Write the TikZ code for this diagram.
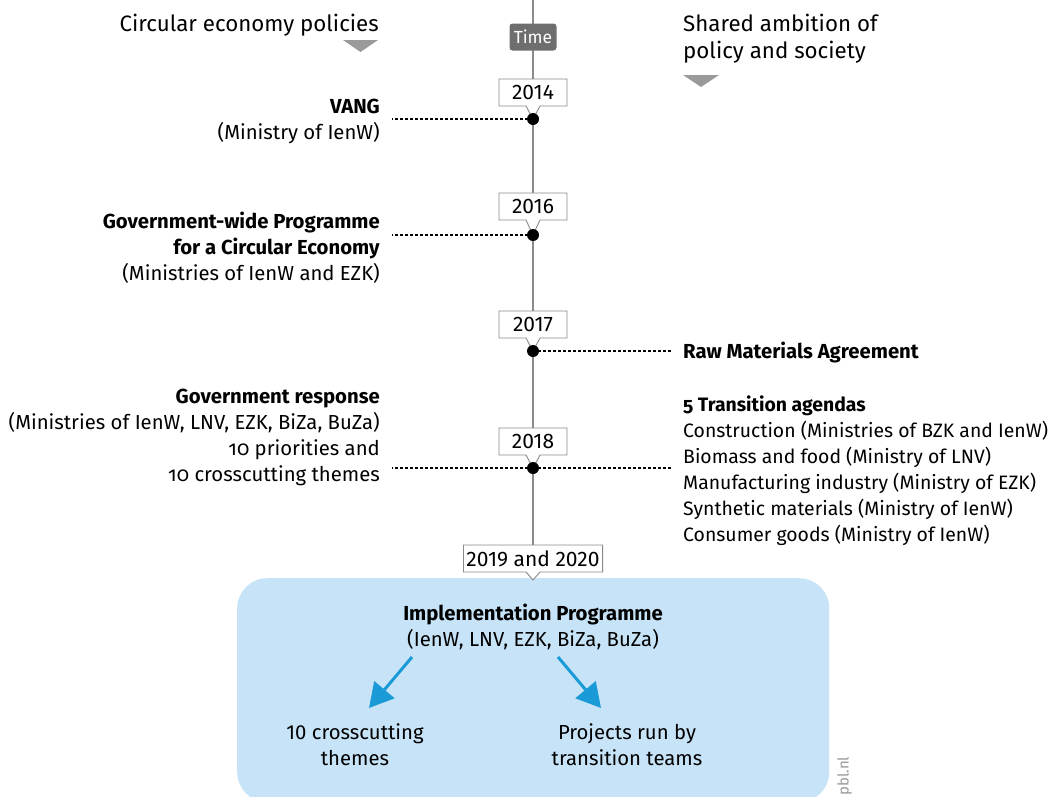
\documentclass[tikz,border=0pt]{standalone}
\usepackage{fontspec}
\setmainfont{Fira Sans}
\newfontfamily\osf{Fira Sans}[Numbers=OldStyle]
\usetikzlibrary{shapes.callouts,arrows.meta,calc}
\definecolor{tlgray}{HTML}{8A8A8A}
\definecolor{timegray}{HTML}{6E6E6E}
\definecolor{trigray}{HTML}{9A9A9A}
\definecolor{boxblue}{HTML}{C7E3F7}
\definecolor{arrblue}{HTML}{1A9BD7}
\tikzset{
  txt/.style={font=\fontsize{20.3}{26}\selectfont, inner sep=0pt},
  rtxt/.style={txt, align=right, anchor=base east},
  ltxt/.style={txt, align=left, anchor=base west},
  ctxt/.style={txt, align=center, anchor=base},
  yearbox/.style={rectangle callout, draw=tlgray, fill=white, line width=0.9pt,
    font=\fontsize{21}{24}\selectfont, minimum height=27pt, inner xsep=3pt, inner ysep=0pt,
    callout pointer width=14pt},
  tdot/.style={circle, fill=black, minimum size=12pt, inner sep=0pt},
  link/.style={dash pattern=on 3pt off 2pt, line width=1.2pt, shorten >=12pt},
  bluearrow/.style={draw=arrblue, line width=3pt, -{Triangle[length=24pt,width=26pt]}},
}
\begin{document}
\begin{tikzpicture}[x=1pt,y=-1pt]
\useasboundingbox (0,0) rectangle (1059,796);
% blue box
\node[draw=none, fill=boxblue, rounded corners=30pt, minimum width=592pt, minimum height=224pt, anchor=north west] (impl) at (237,578) {};
% timeline
\coordinate (top) at (533,0);
\coordinate (d14) at (533,119);
\coordinate (d16) at (533,235);
\coordinate (d17) at (533,351);
\coordinate (d18) at (533,468);
\coordinate (p19) at (533,580);
\node[yearbox, minimum width=138pt, callout absolute pointer={(p19)}] (y19) at (533,558.5) {2019 and 2020};
\draw[tlgray, line width=1.3pt] (top) -- (y19.north);
\node[fill=timegray, rounded corners=3pt, text=white, font=\fontsize{17.5}{20}\selectfont, minimum width=47pt, minimum height=27pt, inner sep=0pt] (time) at (533,37) {Time};
\node[yearbox, minimum width=68pt, callout absolute pointer={(d14)}] (y14) at (533,92.5) {2014};
\node[yearbox, minimum width=68pt, callout absolute pointer={(d16)}] (y16) at (533,206.5) {2016};
\node[yearbox, minimum width=68pt, callout absolute pointer={(d17)}] (y17) at (533,324.5) {2017};
\node[yearbox, minimum width=68pt, callout absolute pointer={(d18)}] (y18) at (533,441.5) {2018};
% headers
\node[rtxt, font=\fontsize{22.3}{27}\selectfont] (hl) at (379,31) {Circular economy policies};
\node[ltxt, font=\fontsize{22.3}{27}\selectfont] (hr) at (683,58) {Shared ambition of\\policy and society};
\fill[trigray] (343,40) -- (378,40) -- (360.5,52) -- cycle;
\fill[trigray] (683,75) -- (719,75) -- (701,87) -- cycle;
% left texts
\node[rtxt] (vang) at (380,139) {\textbf{VANG}\\(Ministry of IenW)};
\node[rtxt] (gwp) at (380,280) {\textbf{Government-wide Programme}\\\textbf{for a Circular Economy}\\(Ministries of IenW and EZK)};
\node[rtxt] (gr) at (380,481) {\textbf{Government response}\\(Ministries of IenW, LNV, EZK, BiZa, BuZa)\\{\osf 10 priorities and}\\{\osf 10 crosscutting themes}};
% right texts
\node[ltxt] (rma) at (683,358) {\textbf{Raw Materials Agreement}};
\node[ltxt, font=\fontsize{19.4}{26}\selectfont] (ta) at (683,541) {\textbf{\osf 5 Transition agendas}\\Construction (Ministries of BZK and IenW)\\Biomass and food (Ministry of LNV)\\Manufacturing industry (Ministry of EZK)\\Synthetic materials (Ministry of IenW)\\Consumer goods (Ministry of IenW)};
% dashed links
\draw[link] (d14) -- (vang.east |- d14);
\draw[link] (d16) -- (gwp.east |- d16);
\draw[link] (d17) -- (rma.west |- d17);
\draw[link] (d18) -- (gr.east |- d18);
\draw[link] (d18) -- (ta.west |- d18);
% dots
\foreach \d in {d14,d16,d17,d18} \node[tdot] at (\d) {};
% implementation
\node[ctxt] (ipt) at (533,646) {\textbf{Implementation Programme}\\(IenW, LNV, EZK, BiZa, BuZa)};
\node[ctxt] (themes) at (355,765) {10 crosscutting\\themes};
\node[ctxt] (proj) at (627,765) {Projects run by\\transition teams};
\coordinate (a1s) at (412,657);
\coordinate (a1e) at (369,708);
\coordinate (a2s) at (558,657);
\coordinate (a2e) at (601,708);
\draw[bluearrow] (a1s) -- (a1e);
\draw[bluearrow] (a2s) -- (a2e);
\node[rotate=90, text=trigray, font=\fontsize{15}{17}\selectfont, inner sep=0pt, anchor=south west] (pbl) at (852,796) {pbl.nl};
\end{tikzpicture}
\end{document}
